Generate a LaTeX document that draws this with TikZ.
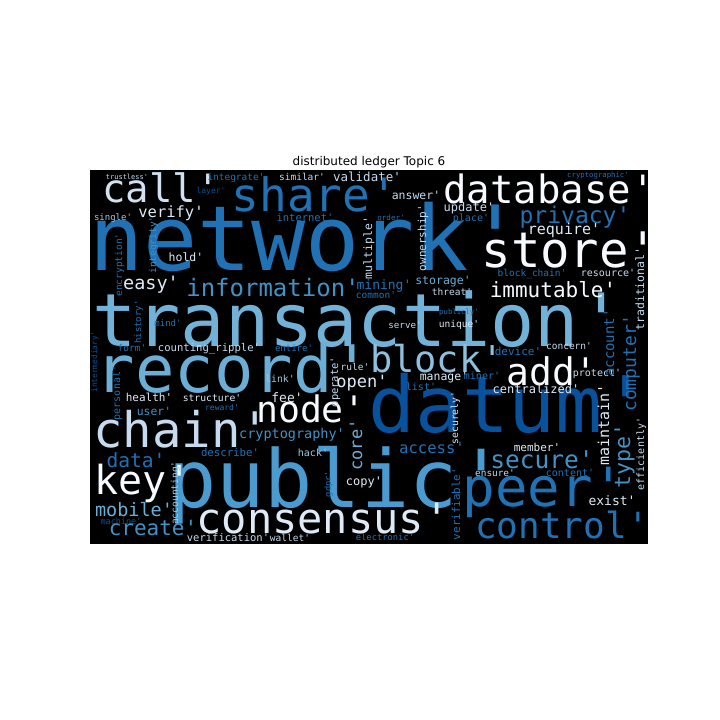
\documentclass[tikz,border=0pt]{standalone}
\usepackage{fontspec}
\newfontfamily\wcfont[Ligatures=TeXOff]{DejaVu Sans Mono}
\newfontfamily\titlefont{DejaVu Sans}
\definecolor{ca}{HTML}{F7FBFF}
\definecolor{cb}{HTML}{DEEBF7}
\definecolor{cc}{HTML}{C6DBEF}
\definecolor{cd}{HTML}{9ECAE1}
\definecolor{ce}{HTML}{6BAED6}
\definecolor{cf}{HTML}{4292C6}
\definecolor{cg}{HTML}{2171B5}
\definecolor{ch}{HTML}{08519C}
\definecolor{cblock}{HTML}{8CC0DE}
\definecolor{cpub}{HTML}{4A9BD0}
\definecolor{ctrans}{HTML}{72B2D8}
\definecolor{ccall}{HTML}{D0E2F2}
\newcommand\wh[6]{\node[wrd,text=#5] (#1) at (#2,#3) {\fontsize{#4}{#4}\selectfont #6};}
\newcommand\wv[6]{\node[wrd,rotate=90,text=#5] (#1) at (#2,#3) {\fontsize{#4}{#4}\selectfont #6};}
\begin{document}
\begin{tikzpicture}[x=1pt,y=-1pt,wrd/.style={anchor=base,inner sep=0pt,outer sep=0pt,font=\wcfont}]
\useasboundingbox (0,0) rectangle (720,720);
\fill[white] (0,0) rectangle (720,720);
\node[anchor=base,inner sep=0pt,font=\titlefont\fontsize{12}{12}\selectfont] (title) at (369,165) {distributed ledger Topic 6};
\fill[black] (90,170) rectangle (648,544);
\begin{scope}
\clip (90,170) rectangle (648,544);
% large words first
\wh{network}{306}{270}{90}{cg}{network'}
\wh{transaction}{358}{346}{73.5}{ctrans}{transaction'}
\wh{record}{234}{392}{65.5}{ce}{record'}
\wh{datum}{509}{432}{78}{ch}{datum'}
\wh{public}{337}{507}{80}{cpub}{public'}
% horizontal words
\wh{trustless}{127}{179}{7}{cc}{trustless'}
\wh{call}{161}{202}{39}{ccall}{call'}
\wh{integrate}{236}{180}{9.5}{cg}{integrate'}
\wh{layer}{211}{193}{8}{ch}{layer'}
\wh{similar}{302}{180}{9.5}{cc}{similar'}
\wh{validate}{367}{181}{12.5}{cc}{validate'}
\wh{share}{315}{211}{46}{cg}{share'}
\wh{answer}{416}{199}{11.5}{cc}{answer'}
\wh{order}{391}{220}{7.5}{cg}{order'}
\wh{update}{469}{211}{12}{cc}{update'}
\wh{place}{471}{221}{10}{cg}{place'}
\wh{database}{549}{203}{39}{ca}{database'}
\wh{cryptographic}{598}{177}{7.3}{cg}{cryptographic'}
\wh{privacy}{575}{223}{23}{cg}{privacy'}
\wh{require}{564}{234}{15}{cb}{require'}
\wh{store}{570}{267}{49}{ca}{store'}
\wh{blockchain}{532}{276}{9.5}{cg}{block\_chain'}
\wh{resource}{608}{276}{10}{cc}{resource'}
\wh{verify}{171}{217}{15.5}{cb}{verify'}
\wh{single}{113}{220}{9}{cd}{single'}
\wh{internet}{305}{221}{10.5}{cg}{internet'}
\wh{hold}{186}{261}{11.5}{cb}{hold'}
\wh{easy}{151}{289}{18.5}{cb}{easy'}
\wh{information}{273}{296}{24}{cf}{information'}
\wh{mining}{384}{289}{13}{cg}{mining'}
\wh{common}{376}{298}{9.5}{cg}{common'}
\wh{storage}{443}{284}{11.5}{ce}{storage'}
\wh{threat}{452}{295}{9.5}{cc}{threat'}
\wh{immutable}{553}{297}{21}{ca}{immutable'}
\wh{mind}{168}{326}{9}{cg}{mind'}
\wh{publicly}{459}{314}{7.3}{cg}{publicly'}
\wh{serve}{405}{328}{9.2}{cc}{serve'}
\wh{unique}{459}{327}{9.6}{cb}{unique'}
\wh{form}{132}{351}{9.5}{cg}{form'}
\wh{countingripple}{209}{351}{10.6}{cc}{counting\_ripple'}
\wh{entire}{294}{351}{9}{cg}{entire'}
\wh{device}{518}{355}{11}{cg}{device'}
\wh{concern}{569}{349}{9.5}{cc}{concern'}
\wh{block}{437}{372}{37}{cblock}{block'}
\wh{add}{552}{385}{38}{ca}{add'}
\wh{protect}{597}{376}{10}{cc}{protect'}
\wh{rule}{355}{370}{9.5}{cc}{rule'}
\wh{open}{362}{387}{17}{cb}{open'}
\wh{link}{280}{382}{9.8}{cd}{link'}
\wh{manage}{444}{380}{11.5}{cb}{manage'}
\wh{miner}{482}{379}{10}{cg}{miner'}
\wh{list}{421}{390}{10}{cg}{list'}
\wh{centralized}{536}{393}{12}{cb}{centralized'}
\wh{fee}{287}{402}{13}{cb}{fee'}
\wh{health}{149}{401}{11}{cb}{health'}
\wh{structure}{212}{401}{9.7}{cb}{structure'}
\wh{user}{154}{415}{11.4}{cf}{user'}
\wh{reward}{222}{410}{8}{cg}{reward'}
\wh{node}{311}{422}{36.5}{ca}{node'}
\wh{chain}{182}{447}{49}{cc}{chain'}
\wh{cryptography}{292}{438}{13.5}{cf}{cryptography'}
\wh{access}{432}{453}{15.6}{cg}{access'}
\wh{member}{537}{451}{11}{cb}{member'}
\wh{secure}{542}{468}{24.5}{cf}{secure'}
\wh{describe}{230}{456}{10.7}{cg}{describe'}
\wh{hack}{313}{456}{10}{cd}{hack'}
\wh{data}{136}{467}{19.6}{cg}{data'}
\wh{ensure}{495}{476}{9.4}{cc}{ensure'}
\wh{content}{570}{476}{10}{cg}{content'}
\wh{key}{143}{494}{40}{ca}{key'}
\wh{copy}{364}{485}{12}{cb}{copy'}
\wh{peer}{544}{506}{54}{cg}{peer'}
\wh{exist}{612}{505}{13}{cb}{exist'}
\wh{mobile}{134}{516}{18.5}{ce}{mobile'}
\wh{machine}{121}{524}{8.5}{ch}{machine'}
\wh{create}{153}{535}{21}{cf}{create'}
\wh{consensus}{323}{533}{42}{cb}{consensus'}
\wh{control}{562}{538}{36}{cg}{control'}
\wh{verification}{228}{541}{10.5}{cc}{verification'}
\wh{wallet}{290}{541}{9.5}{cc}{wallet'}
\wh{electronic}{385}{540}{8.8}{cg}{electronic'}
% vertical words
\wv{integrity}{156}{245}{9.5}{cf}{integrity'}
\wv{encryption}{122}{265}{9.5}{cg}{encryption'}
\wv{multiple}{372}{248}{11.5}{cc}{multiple'}
\wv{ownership}{426}{238}{11}{cc}{ownership'}
\wv{traditional}{644}{289}{11.5}{cc}{traditional'}
\wv{history}{141}{322}{9}{cg}{history'}
\wv{account}{614}{343}{14}{cg}{account'}
\wv{computer}{636}{363}{18}{cg}{computer'}
\wv{operate}{338}{382}{10.5}{cc}{operate'}
\wv{intermediary}{97}{362}{7.8}{ch}{intermediary'}
\wv{personal}{120}{393}{10}{cg}{personal'}
\wv{core}{362}{445}{17}{ce}{core'}
\wv{accounting}{178}{493}{9.6}{cd}{accounting'}
\wv{gdpr}{331}{484}{8.7}{cg}{gdpr'}
\wv{securely}{458}{418}{9.7}{cb}{securely'}
\wv{maintain}{609}{425}{15}{cb}{maintain'}
\wv{type}{630}{456}{21.6}{cf}{type'}
\wv{efficiently}{644}{454}{10}{cc}{efficiently'}
\wv{verifiable}{460}{504}{10.9}{cg}{verifiable'}
\end{scope}
\end{tikzpicture}
\end{document}
